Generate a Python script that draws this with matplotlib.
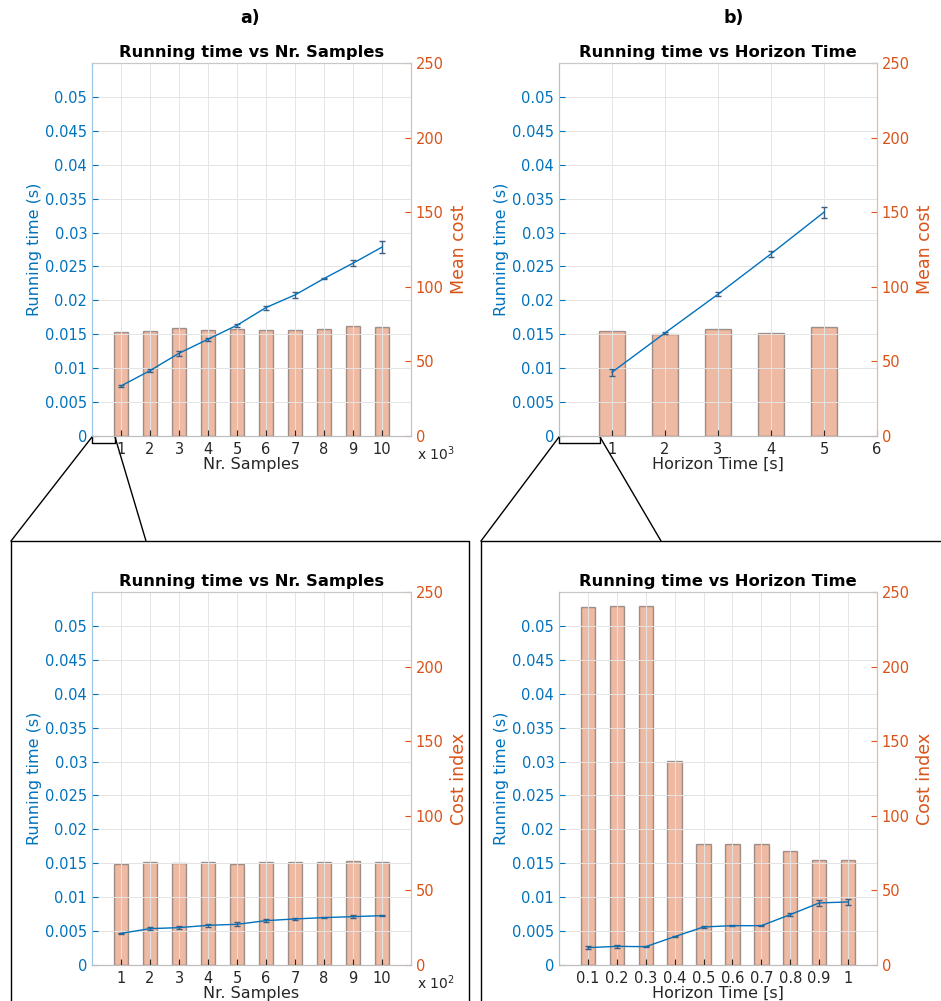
import matplotlib
matplotlib.use("Agg")
import matplotlib.pyplot as plt
from matplotlib.lines import Line2D

W, H = 941, 1001

# a) oben: antal samples (x 10^3)
samples = [1, 2, 3, 4, 5, 6, 7, 8, 9, 10]
time_samples_k = [0.00738, 0.00964, 0.0122, 0.01427, 0.01633, 0.01894, 0.0208, 0.02322, 0.02548, 0.02785]
err_samples_k = [0.0001, 0.0002, 0.0004, 0.0002, 0.0002, 0.0003, 0.0004, 0.0001, 0.0004, 0.0009]
cost_samples_k = [69.5, 70.2, 72.2, 70.9, 71.6, 70.9, 70.9, 71.6, 73.6, 72.9]

# b) oben: horisonttid
horizon = [1, 2, 3, 4, 5]
time_horizon = [0.0094, 0.0152, 0.0209, 0.02686, 0.0330]
err_horizon = [0.0005, 0.0002, 0.0003, 0.0004, 0.0008]
cost_horizon = [70.2, 68.2, 71.8, 69.1, 73.1]

# a) nere: antal samples (x 10^2)
time_samples_h = [0.00467, 0.00536, 0.00551, 0.00585, 0.0060, 0.00654, 0.00679, 0.00699, 0.00713, 0.00728]
err_samples_h = [0.0001, 0.0002, 0.0002, 0.0002, 0.0003, 0.0002, 0.0001, 0.0001, 0.0002, 0.0001]
cost_samples_h = [68.0, 68.9, 68.4, 68.9, 68.0, 68.9, 68.9, 68.9, 69.5, 69.3]

# b) nere: kort horisonttid
horizon_short = [0.1, 0.2, 0.3, 0.4, 0.5, 0.6, 0.7, 0.8, 0.9, 1.0]
horizon_short_labels = ["0.1", "0.2", "0.3", "0.4", "0.5", "0.6", "0.7", "0.8", "0.9", "1"]
time_horizon_short = [0.00256, 0.00275, 0.0027, 0.00418, 0.00561, 0.0058, 0.0058, 0.00743, 0.00915, 0.0093]
err_horizon_short = [0.0002, 0.0002, 0.0001, 0.0001, 0.0001, 0.0001, 0.0001, 0.0002, 0.0004, 0.0005]
cost_horizon_short = [239.9, 240.6, 240.6, 136.6, 80.9, 80.9, 80.9, 76.3, 70.2, 70.2]

BLUE = "#0072BD"
ORANGE = "#D95319"
DARK = "#262626"

plt.rcParams["font.family"] = "DejaVu Sans"
fig = plt.figure(figsize=(W / 100, H / 100), dpi=100)


def fx(px):
    return px / W


def fy(py):
    return 1 - py / H


def panel(left, top, right, bottom, x, t, err, cost, xlim, width, xticks, xticklabels,
          title, xlabel, rlabel, mult=None):
    ax = fig.add_axes([fx(left), fy(bottom), fx(right) - fx(left), fy(top) - fy(bottom)])
    ax2 = ax.twinx()
    # staplar bakom linjen
    ax.set_zorder(2)
    ax.patch.set_visible(False)
    ax2.bar(x, cost, width=width, color=ORANGE, alpha=0.4, edgecolor="#1a1a1a", linewidth=1.0)
    ax.errorbar(x, t, yerr=err, color=BLUE, ecolor="#3f5f80", elinewidth=1.0, capsize=2.5,
                capthick=1.0, linewidth=1.0)

    ax.set_xlim(*xlim)
    ax.set_ylim(0, 0.055)
    ax2.set_ylim(0, 250)
    yt = [i * 0.005 for i in range(11)]
    ax.set_yticks(yt)
    ax.set_yticklabels(["%g" % round(v, 3) for v in yt])
    ax2.set_yticks([0, 50, 100, 150, 200, 250])
    ax.set_xticks(xticks)
    ax.set_xticklabels(xticklabels)

    ax.grid(True, color="#e4e4e4", linewidth=0.7)
    ax.tick_params(axis="y", colors=BLUE, labelsize=10.5, direction="in", length=4)
    ax.tick_params(axis="x", colors=DARK, labelsize=10.5, direction="in", length=4, pad=4)
    ax2.tick_params(axis="y", colors=ORANGE, labelsize=10.5, direction="in", length=4)
    for a in (ax, ax2):
        a.spines["left"].set_color("#9cc6e6")
        a.spines["right"].set_color("#eab8a0")
        a.spines["top"].set_color("#c8c8c8")
        a.spines["bottom"].set_color("#bdbdbd")
    ax.set_ylabel("Running time (s)", color=BLUE, fontsize=11.5, labelpad=2)
    ax2.set_ylabel(rlabel, color=ORANGE, fontsize=12.5, labelpad=4)
    ax.set_xlabel(xlabel, color=DARK, fontsize=11.5, labelpad=0)
    ax.set_title(title, fontsize=11.8, fontweight="bold", pad=4)
    if mult:
        ax.text(1.02, -0.047, mult, transform=ax.transAxes, fontsize=10, color=DARK,
                ha="left", va="center")
    return ax


panel(92, 63, 411, 436, samples, time_samples_k, err_samples_k, cost_samples_k,
      (0, 11), 0.5, samples, [str(v) for v in samples],
      "Running time vs Nr. Samples", "Nr. Samples", "Mean cost", "x 10$^3$")
panel(559, 63, 877, 436, horizon, time_horizon, err_horizon, cost_horizon,
      (0, 6), 0.5, [1, 2, 3, 4, 5, 6], ["1", "2", "3", "4", "5", "6"],
      "Running time vs Horizon Time", "Horizon Time [s]", "Mean cost")
panel(92, 592, 411, 965, samples, time_samples_h, err_samples_h, cost_samples_h,
      (0, 11), 0.5, samples, [str(v) for v in samples],
      "Running time vs Nr. Samples", "Nr. Samples", "Cost index", "x 10$^2$")
panel(559, 592, 877, 965, horizon_short, time_horizon_short, err_horizon_short, cost_horizon_short,
      (0, 1.1), 0.05, horizon_short, horizon_short_labels,
      "Running time vs Horizon Time", "Horizon Time [s]", "Cost index")

fig.text(fx(250), fy(18), "a)", fontsize=12.5, fontweight="bold", ha="center", va="center")
fig.text(fx(734), fy(18), "b)", fontsize=12.5, fontweight="bold", ha="center", va="center")


def line(pts):
    fig.add_artist(Line2D([fx(p[0]) for p in pts], [fy(p[1]) for p in pts],
                          color="black", linewidth=1.0, transform=fig.transFigure))


# zoom-klammer och ramar
line([(92, 437), (92, 443), (115, 443), (115, 437)])
line([(92, 437), (11, 541)])
line([(115, 437), (146, 541)])
line([(11, 1001), (11, 541), (469, 541), (469, 1001)])

line([(559, 437), (559, 443), (600, 443), (600, 437)])
line([(559, 437), (481, 541)])
line([(600, 437), (661, 541)])
line([(481, 1001), (481, 541), (941, 541)])

fig.savefig("out.png", dpi=100)
